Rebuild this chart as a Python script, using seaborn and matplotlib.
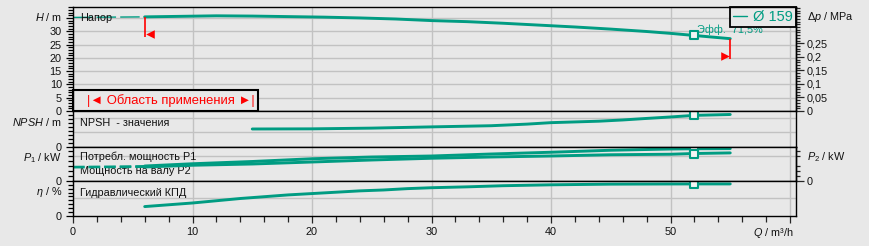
import numpy as np
import pandas as pd
import matplotlib
matplotlib.use("Agg")
import matplotlib.pyplot as plt
import seaborn as sns
from matplotlib.ticker import MultipleLocator, FixedLocator, FixedFormatter, NullFormatter
from matplotlib.lines import Line2D
from matplotlib.patches import Rectangle

# ---------------- data ----------------
Q_H = [0, 3, 6, 9, 12, 15, 18, 21, 24, 27, 30, 33, 36, 39, 42, 45, 48, 50, 52, 55]
H_VALUES = [35.2, 35.3, 35.4, 35.6, 35.8, 35.7, 35.5, 35.3, 35.0, 34.6, 34.0, 33.6,
            33.0, 32.3, 31.6, 30.8, 29.9, 29.2, 28.4, 27.2]

Q_NPSH = [15, 20, 25, 30, 35, 38, 40, 42, 44, 46, 48, 50, 52, 55]
NPSH_VALUES = [2.43, 2.45, 2.55, 2.72, 2.88, 3.1, 3.3, 3.4, 3.5, 3.67, 3.88, 4.08, 4.3, 4.42]

Q_P = [0, 3, 6, 10, 15, 20, 25, 30, 35, 40, 45, 50, 52, 55]
P1_VALUES = [2.85, 2.9, 3.0, 3.45, 3.9, 4.45, 4.8, 5.0, 5.4, 5.75, 6.15, 6.4, 6.45, 6.48]
P2_VALUES = [2.7, 2.75, 2.8, 3.15, 3.4, 3.8, 4.2, 4.55, 4.8, 5.0, 5.25, 5.35, 5.5, 5.62]

Q_ETA = [6, 8, 10, 12, 14, 16, 18, 20, 22, 24, 26, 28, 30, 33, 36, 40, 45, 50, 52, 55]
ETA_VALUES = [21, 25, 29, 34, 39, 43, 47, 50, 53, 56, 58, 61, 63, 65, 67.5, 69.5,
              71, 71.4, 71.5, 71.5]

OP_Q = 52                    # duty point
RANGE_Q = [6, 55]            # application range limits
RANGE_LINE_H = [(35.4, 27.7), (27.2, 19.7)]
RANGE_ARROW_H = [29.0, 20.7]

X_TICK_LABELS = ["0", "10", "20", "30", "40", "50", ""]
H_TICKS = [0, 5, 10, 15, 20, 25, 30, 35]
H_TICK_LABELS = ["0", "5", "10", "15", "20", "25", "30", ""]
DP_TICKS = [0, 0.05, 0.1, 0.15, 0.2, 0.25]
DP_TICK_LABELS = ["0", "0,05", "0,1", "0,15", "0,2", "0,25"]

LEGEND_LABEL = "Ø 159"
EFF_LABEL = "Эфф.  71,5%"
RANGE_LABEL = "|◄ Область применения ►|"

# ---------------- style ----------------
sns.set_theme(style="ticks")
plt.rcParams["font.family"] = ["Liberation Sans", "DejaVu Sans"]
plt.rcParams["mathtext.fontset"] = "custom"
plt.rcParams["mathtext.it"] = "Liberation Sans:italic"
plt.rcParams["mathtext.rm"] = "Liberation Sans"
plt.rcParams["axes.unicode_minus"] = False

TEAL = "#009c82"
BG = "#e8e8e8"
GRID = "#c2c2c2"
TXT = "#111111"
FS = 7.8
LW = 2.1

W, HPX = 869, 246
L, R = 73, 796
fig = plt.figure(figsize=(W / 100, HPX / 100), dpi=100, facecolor=BG)


def add(top, bot):
    return fig.add_axes([L / W, 1 - bot / HPX, (R - L) / W, (bot - top) / HPX])


axH = add(7.3, 111)
axN = add(111, 146.7)
axP = add(146.7, 181)
axE = add(181, 216)
axes = [axH, axN, axP, axE]

XMAX = (R - L) / 11.95
for ax in axes:
    ax.set_facecolor(BG)
    ax.set_xlim(0, XMAX)
    for s in ax.spines.values():
        s.set_color("black")
        s.set_linewidth(1.0)
        s.set_zorder(20)
    ax.xaxis.set_major_locator(FixedLocator([0, 10, 20, 30, 40, 50, 60]))
    ax.xaxis.set_minor_locator(MultipleLocator(2))
    ax.grid(axis="x", which="major", color=GRID, lw=1.0, zorder=0)
    ax.set_axisbelow(True)
    ax.tick_params(axis="y", which="major", direction="out", length=5, width=0.9,
                   color="black", labelsize=FS, pad=3, labelcolor=TXT)
    ax.tick_params(axis="y", which="minor", direction="out", length=3.3, width=0.9,
                   color="black")

for ax in axes[:-1]:
    ax.tick_params(axis="x", which="both", bottom=False, labelbottom=False)
axE.tick_params(axis="x", which="major", direction="out", length=4.8, width=0.9,
                labelsize=FS, pad=3.2, labelcolor=TXT)
axE.tick_params(axis="x", which="minor", direction="out", length=4, width=0.9)

# ---------------- H panel ----------------
dfH = pd.DataFrame({"Q": Q_H, "H": H_VALUES})
axH.set_ylim(0, 39)
axH.yaxis.set_major_locator(FixedLocator(H_TICKS))
axH.yaxis.set_major_formatter(FixedFormatter(H_TICK_LABELS))
axH.yaxis.set_minor_locator(MultipleLocator(1))
for v in H_TICKS[1:]:
    axH.axhline(v, color=GRID, lw=1.0, zorder=0)
sns.lineplot(data=dfH[dfH.Q <= RANGE_Q[0]], x="Q", y="H", ax=axH, color=TEAL,
             lw=1.0, linestyle=(0, (14, 3)), zorder=3)
sns.lineplot(data=dfH[dfH.Q >= RANGE_Q[0]], x="Q", y="H", ax=axH, color=TEAL,
             lw=LW, zorder=4)
axH.text(OP_Q + 0.2, 30.6, EFF_LABEL, color=TEAL, fontsize=FS, ha="left",
         va="center", zorder=2)
sns.scatterplot(x=[OP_Q], y=[H_VALUES[Q_H.index(OP_Q)]], ax=axH, marker="s", s=28,
                facecolor="#f4f4f4", edgecolor=TEAL, linewidth=1.5, zorder=6)

# application range marks
axH.vlines(RANGE_Q[0], RANGE_LINE_H[0][1], RANGE_LINE_H[0][0], color="red", lw=1.2, zorder=7)
axH.vlines(RANGE_Q[1], RANGE_LINE_H[1][1], RANGE_LINE_H[1][0], color="red", lw=1.2, zorder=7)
axH.scatter([RANGE_Q[0] + 0.45], [RANGE_ARROW_H[0]], marker="<", s=38, color="red",
            linewidths=0, zorder=7)
axH.scatter([RANGE_Q[1] - 0.45], [RANGE_ARROW_H[1]], marker=">", s=38, color="red",
            linewidths=0, zorder=7)

axH.text(0.0097, 0.893, "Напор", transform=axH.transAxes, fontsize=FS, color=TXT,
         ha="left", va="center", zorder=5)

# application-range box
axH.add_patch(Rectangle((0, 0), 0.256, 0.2025, transform=axH.transAxes,
                        facecolor=BG, edgecolor="black", lw=1.5, zorder=8, clip_on=False))
axH.text(0.135, 0.098, RANGE_LABEL, transform=axH.transAxes, fontsize=9.4, color="red",
         ha="center", va="center", zorder=9)

# legend
leg = axH.legend(handles=[Line2D([], [], color=TEAL, lw=1.0)], labels=[LEGEND_LABEL],
                 loc="upper right", bbox_to_anchor=(1.0, 1.0), borderaxespad=0,
                 frameon=True, fancybox=False, framealpha=1, facecolor=BG,
                 edgecolor="black", fontsize=10.5, labelcolor=TEAL, handlelength=1.0,
                 handletextpad=0.4, borderpad=0.2)
leg.get_frame().set_linewidth(1.3)
leg.set_zorder(15)

# Δp right axis
axH2 = axH.twinx()
axH2.set_ylim(0, 39 * 0.00981)
axH2.yaxis.set_major_locator(FixedLocator(DP_TICKS))
axH2.yaxis.set_major_formatter(FixedFormatter(DP_TICK_LABELS))
axH2.yaxis.set_minor_locator(MultipleLocator(0.01))
axH2.tick_params(axis="y", which="major", direction="out", length=5.5, width=0.9,
                 labelsize=FS, pad=2, labelcolor=TXT)
axH2.tick_params(axis="y", which="minor", direction="out", length=3, width=0.9)
for k, s in axH2.spines.items():
    s.set_visible(k == "right")
    s.set_color("black")
    s.set_linewidth(1.0)

# ---------------- NPSH panel ----------------
dfN = pd.DataFrame({"Q": Q_NPSH, "NPSH": NPSH_VALUES})
axN.set_ylim(0, 4.9)
axN.yaxis.set_major_locator(FixedLocator([0]))
axN.yaxis.set_minor_locator(MultipleLocator(0.55))
for v in [2, 4]:
    axN.axhline(v, color=GRID, lw=1.0, zorder=0)
sns.lineplot(data=dfN, x="Q", y="NPSH", ax=axN, color=TEAL, lw=LW, zorder=4)
sns.scatterplot(x=[OP_Q], y=[NPSH_VALUES[Q_NPSH.index(OP_Q)]], ax=axN, marker="s", s=28,
                facecolor="#f4f4f4", edgecolor=TEAL, linewidth=1.5, zorder=6)
axN.text(0.0097, 0.67, "NPSH  - значения", transform=axN.transAxes, fontsize=FS,
         color=TXT, ha="left", va="center", zorder=5)

# ---------------- Power panel ----------------
dfP = pd.DataFrame({"Q": Q_P, "P1": P1_VALUES, "P2": P2_VALUES})
axP.set_ylim(0, 6.86)
axP.yaxis.set_major_locator(FixedLocator([0]))
axP.yaxis.set_minor_locator(MultipleLocator(1))
axP.axhline(5, color=GRID, lw=1.0, zorder=0)
for col in ["P1", "P2"]:
    sns.lineplot(data=dfP[dfP.Q <= RANGE_Q[0]], x="Q", y=col, ax=axP, color=TEAL,
                 lw=1.4, linestyle=(0, (6, 2)), zorder=3)
    sns.lineplot(data=dfP[dfP.Q >= RANGE_Q[0]], x="Q", y=col, ax=axP, color=TEAL,
                 lw=LW, zorder=4)
sns.scatterplot(x=[OP_Q, OP_Q], y=[P1_VALUES[Q_P.index(OP_Q)], P2_VALUES[Q_P.index(OP_Q)]],
                ax=axP, marker="s", s=28, facecolor="#f4f4f4", edgecolor=TEAL,
                linewidth=1.5, zorder=6)
axP.text(0.0097, 0.70, "Потребл. мощность P1", transform=axP.transAxes, fontsize=FS,
         color=TXT, ha="left", va="center", zorder=2)
axP.text(0.0097, 0.30, "Мощность на валу P2", transform=axP.transAxes, fontsize=FS,
         color=TXT, ha="left", va="center", zorder=2)

axP2 = axP.twinx()
axP2.set_ylim(0, 6.86)
axP2.yaxis.set_major_locator(FixedLocator([0]))
axP2.yaxis.set_minor_locator(FixedLocator([1, 2, 3, 5, 6]))
axP2.yaxis.set_minor_formatter(NullFormatter())
axP2.tick_params(axis="y", which="major", direction="out", length=5.5, width=0.9,
                 labelsize=FS, pad=2, labelcolor=TXT)
axP2.tick_params(axis="y", which="minor", direction="out", length=3, width=0.9)
for k, s in axP2.spines.items():
    s.set_visible(k == "right")
    s.set_color("black")
    s.set_linewidth(1.0)

# ---------------- Efficiency panel ----------------
dfE = pd.DataFrame({"Q": Q_ETA, "eta": ETA_VALUES})
axE.set_ylim(0, 78)
axE.yaxis.set_major_locator(FixedLocator([0]))
axE.yaxis.set_minor_locator(MultipleLocator(8.7))
axE.axhline(40, color=GRID, lw=1.0, zorder=0)
sns.lineplot(data=dfE, x="Q", y="eta", ax=axE, color=TEAL, lw=LW, zorder=4)
sns.scatterplot(x=[OP_Q], y=[ETA_VALUES[Q_ETA.index(OP_Q)]], ax=axE, marker="s", s=28,
                facecolor="#f4f4f4", edgecolor=TEAL, linewidth=1.5, zorder=6)
axE.text(0.0097, 0.65, "Гидравлический КПД", transform=axE.transAxes, fontsize=FS,
         color=TXT, ha="left", va="center", zorder=5)
axE.xaxis.set_major_formatter(FixedFormatter(X_TICK_LABELS))

for ax in axes + [axH2, axP2]:
    ax.set_xlabel("")
    ax.set_ylabel("")

# ---------------- axis titles ----------------
LX = (62 - L) / (R - L)
RX = (807 - L) / (R - L)


def ltext(ax, ypx, ybot, ytop, s):
    frac = (ybot - ypx) / (ybot - ytop)
    ax.text(LX, frac, s, transform=ax.transAxes, fontsize=FS, color=TXT,
            ha="right", va="center")


ltext(axH, 17.3, 111, 7.3, "$H$ / m")
ltext(axN, 122.3, 146.7, 111, "$NPSH$ / m")
ltext(axP, 158.3, 181, 146.7, "$P_1$ / kW")
ltext(axE, 192.3, 216, 181, "$\\eta$ / %")

axH2.text(RX, (111 - 17.3) / (111 - 7.3), "Δ$p$ / MPa", transform=axH2.transAxes,
          fontsize=FS, color=TXT, ha="left", va="center")
axP2.text(RX, (181 - 156.7) / (181 - 146.7), "$P_2$ / kW", transform=axP2.transAxes,
          fontsize=FS, color=TXT, ha="left", va="center")
axE.text((794 - L) / (R - L), -0.48, "$Q$ / m³/h", transform=axE.transAxes, fontsize=FS,
         color=TXT, ha="right", va="center")

fig.savefig("out.png", dpi=100, facecolor=BG)
